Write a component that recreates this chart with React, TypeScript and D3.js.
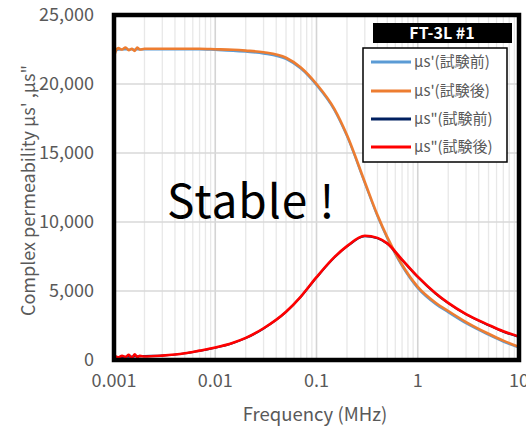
import React from "react";
import * as d3 from "d3";

const width = 526, height = 429
const margin = { left: 114, right: 7, top: 15, bottom: 69 }

// frequency (MHz)
const freq = [0.001, 0.00105, 0.0011, 0.0012, 0.0013, 0.0014, 0.0015, 0.0016, 0.0017, 0.0018, 0.002,
  0.003, 0.005, 0.007, 0.01, 0.015, 0.02, 0.03, 0.05, 0.07, 0.1, 0.15, 0.2, 0.3, 0.4, 0.5, 0.7,
  1, 1.5, 2, 3, 5, 7, 10]

// μs' before / after test
const muReBefore = [22350, 22420, 22480, 22500, 22500, 22500, 22500, 22500, 22500, 22500, 22500,
  22500, 22500, 22500, 22460, 22400, 22330, 22200, 21800, 21100, 19900, 18100, 16200, 12800, 10400, 8800, 6800,
  5200, 4050, 3450, 2650, 1820, 1320, 880]
const muReAfter = [22000, 22450, 22600, 22500, 22650, 22450, 22550, 22400, 22650, 22500, 22550,
  22550, 22550, 22550, 22520, 22480, 22420, 22300, 21900, 21200, 20000, 18200, 16300, 12900, 10500, 8900, 6900,
  5300, 4150, 3550, 2750, 1900, 1400, 950]

// μs" before / after test
const muImBefore = [180, 200, 210, 220, 230, 240, 250, 260, 270, 280, 290,
  320, 480, 660, 880, 1230, 1580, 2280, 3470, 4570, 5970, 7420, 8220, 8970, 8820, 8420, 7250,
  6010, 4810, 4110, 3300, 2520, 2050, 1670]
const muImAfter = [150, 250, 180, 300, 220, 380, 120, 420, 200, 300, 250,
  320, 490, 680, 900, 1250, 1600, 2300, 3500, 4600, 6000, 7450, 8250, 9000, 8850, 8450, 7280,
  6040, 4840, 4140, 3330, 2550, 2080, 1700]

const seriesNames = ["μs'(試験前)", "μs'(試験後)", "μs\"(試験前)", "μs\"(試験後)"]
const seriesColors = ["#5B9BD5", "#ED7D31", "#002060", "#FF0000"]
const seriesValues = [muReBefore, muReAfter, muImBefore, muImAfter]
const seriesWidths = [2, 2.6, 2, 2.6]

const yTicks = [0, 5000, 10000, 15000, 20000, 25000]
const xTicks = [0.001, 0.01, 0.1, 1, 10]
const xTickLabels = ["0.001", "0.01", "0.1", "1", "10"]

const font = "'Noto Sans CJK JP', 'Noto Sans', sans-serif"

const App = () => {
  const x = d3.scaleLog().domain([0.001, 10]).range([margin.left, width - margin.right])
  const y = d3.scaleLinear().domain([0, 25000]).range([height - margin.bottom, margin.top])

  const minorX: number[] = []
  for (let e = -3; e < 1; e++) {
    for (let k = 2; k <= 9; k++) minorX.push(k * Math.pow(10, e))
  }

  const line = d3.line<number>()
    .x((_, i) => x(freq[i]))
    .y(d => y(d))
    .curve(d3.curveMonotoneX)

  const x0 = margin.left, x1 = width - margin.right
  const y0 = height - margin.bottom, y1 = margin.top

  const legendX = 363, legendY = 48
  const rowY = [62, 91, 119, 147]

  return <svg width={width} height={height} style={{ position: "absolute", left: 0, top: 0, background: "#fff" }}>
    <defs>
      <clipPath id="plot">
        <rect x={x0} y={y1} width={x1 - x0} height={y0 - y1} />
      </clipPath>
    </defs>

    {minorX.map(f => <line key={"m" + f} x1={x(f)} x2={x(f)} y1={y1} y2={y0} stroke="#e8e8e8" strokeWidth={1.3} />)}
    {xTicks.map(f => <line key={"M" + f} x1={x(f)} x2={x(f)} y1={y1} y2={y0} stroke="#d4d4d4" strokeWidth={1.6} />)}
    {yTicks.map(v => <line key={"h" + v} x1={x0} x2={x1} y1={y(v)} y2={y(v)} stroke="#d9d9d9" strokeWidth={1.6} />)}

    <text x={167} y={218} fontFamily={font} fontSize={46} letterSpacing={1} fill="#000">Stable !</text>

    <g clipPath="url(#plot)">
      {seriesValues.map((vals, i) => <path key={i} d={line(vals) || ""} fill="none"
        stroke={seriesColors[i]} strokeWidth={seriesWidths[i]} strokeLinejoin="round" />)}
    </g>

    <rect x={x0} y={y1} width={x1 - x0} height={y0 - y1} fill="none" stroke="#000" strokeWidth={4.5} />

    {yTicks.map(v => <text key={"yl" + v} x={94} y={y(v)} dy="0.35em" textAnchor="end"
      fontFamily={font} fontSize={18} fill="#595959">{d3.format(",")(v)}</text>)}
    {xTicks.map((f, i) => <text key={"xl" + f} x={x(f)} y={381} dy="0.35em" textAnchor="middle"
      fontFamily={font} fontSize={18} fill="#595959">{xTickLabels[i]}</text>)}

    <text x={315} y={415} dy="0.35em" textAnchor="middle" fontFamily={font} fontSize={18.5} fill="#595959">Frequency (MHz)</text>
    <text transform={`translate(29,${(y0 + y1) / 2 + 3}) rotate(-90)`} dy="0.35em" textAnchor="middle"
      fontFamily={font} fontSize={18} fill="#595959">Complex permeability μs' ,μs"</text>

    <rect x={373} y={23} width={139} height={20} fill="#000" />
    <text x={442} y={33} dy="0.35em" textAnchor="middle" fontFamily={font} fontSize={16} fontWeight="bold" fill="#fff">FT-3L #1</text>

    <rect x={legendX} y={legendY} width={144} height={114} fill="#fff" stroke="#000" strokeWidth={1.5} />
    {seriesNames.map((name, i) => <g key={name}>
      <line x1={371} x2={411} y1={rowY[i]} y2={rowY[i]} stroke={seriesColors[i]} strokeWidth={3} />
      <text x={414} y={rowY[i]} dy="0.35em" fontFamily={font} fontSize={15} fill="#595959">{name}</text>
    </g>)}
  </svg>
}

export default App;
